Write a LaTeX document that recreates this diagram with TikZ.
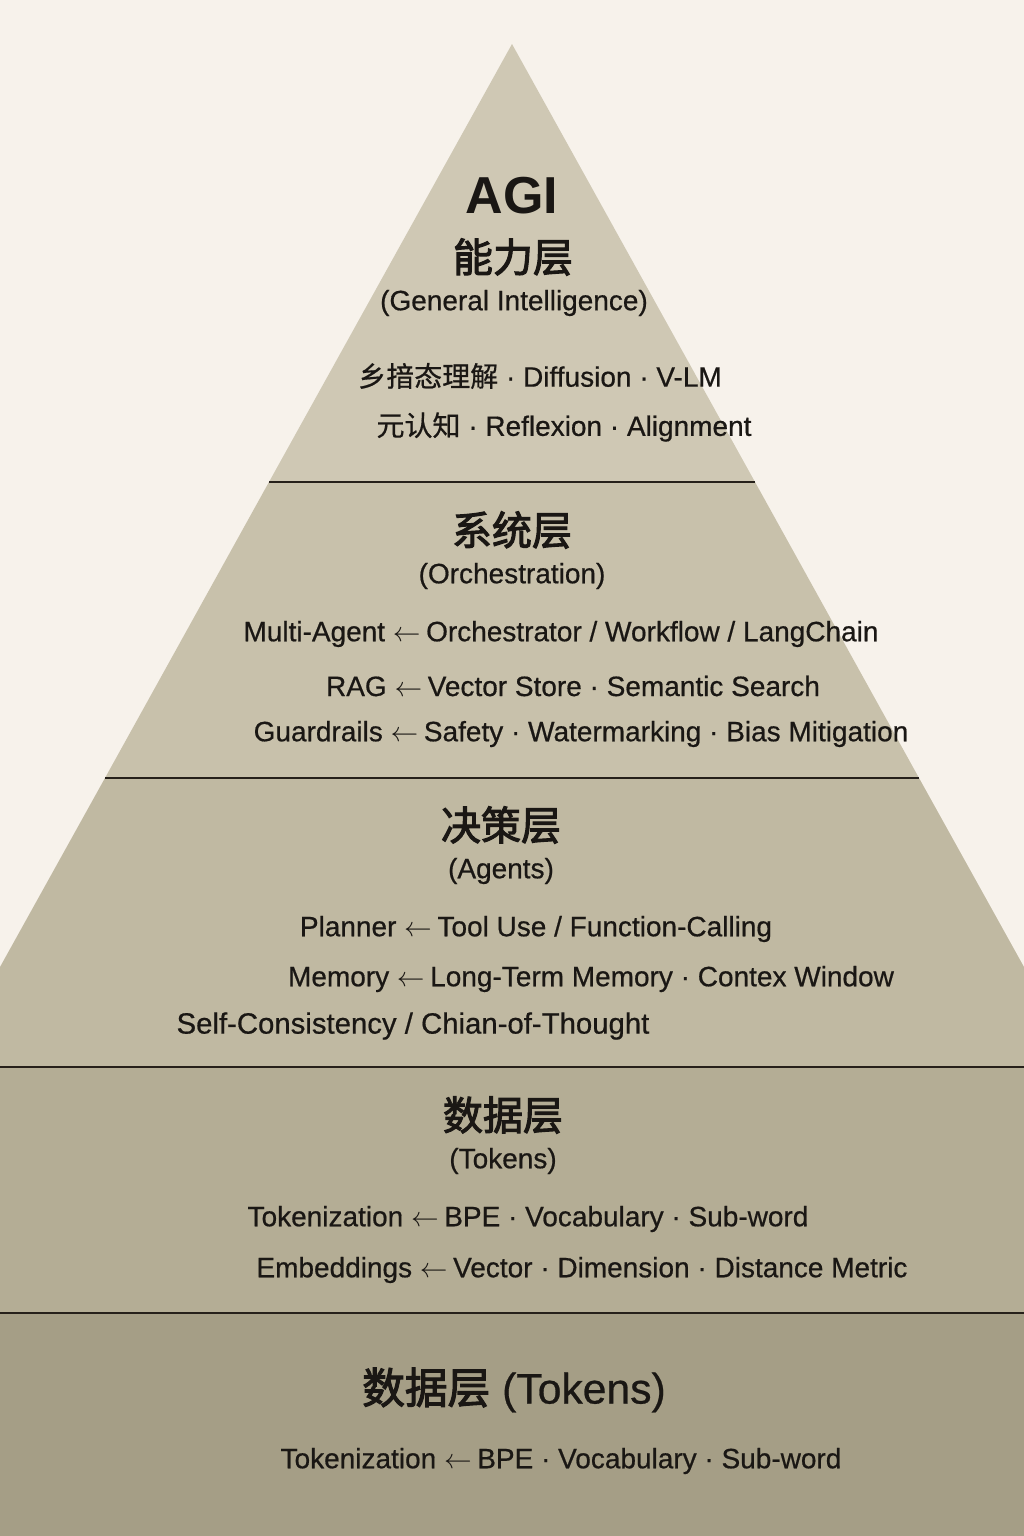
\documentclass[tikz,border=0pt]{standalone}
\usepackage{fontspec}
\setmainfont{Liberation Sans}
\newfontfamily\medsans{Liberation Sans}[FakeBold=0.6]
\newfontfamily\cjk{Noto Sans CJK SC}[FakeBold=0.6]
\newfontfamily\cjkhead{Noto Sans CJK SC}[FakeBold=2.6]
\usepackage{xcolor}
\definecolor{paper}{RGB}{247, 242, 235}
\definecolor{bandone}{RGB}{207, 200, 180}
\definecolor{bandtwo}{RGB}{200, 193, 171}
\definecolor{bandthree}{RGB}{192, 185, 162}
\definecolor{bandfour}{RGB}{180, 173, 149}
\definecolor{bandfive}{RGB}{165, 158, 134}
\definecolor{inkdark}{RGB}{26, 23, 20}
\definecolor{rule}{RGB}{38, 32, 26}
\newcommand{\backto}{\ $\leftarrow$\hspace{0.2em}}
\tikzset{
    layer head/.style={
        inner sep=0pt,
        text=inkdark,
        font=\cjkhead\fontsize{30}{36}\selectfont
    },
    layer sub/.style={
        inner sep=0pt,
        text=inkdark,
        font=\medsans\fontsize{21}{25}\selectfont
    },
    item line/.style={
        inner sep=0pt,
        text=inkdark,
        font=\medsans\fontsize{21}{25}\selectfont
    },
    band rule/.style={
        line width=1.4pt,
        draw=rule
    }
}

\begin{document}
\begin{tikzpicture}[x=0.75pt, y=-0.75pt]

% Canvas
\fill[paper] (0, 0) rectangle (1024, 1536);
\useasboundingbox (0, 0) rectangle (1024, 1536);

% Pyramid corners
\coordinate (apex) at (512, 44);
\coordinate (l1) at (269, 482);
\coordinate (r1) at (755, 482);
\coordinate (l2) at (105, 778);
\coordinate (r2) at (919, 778);
\coordinate (l3) at (0, 967);
\coordinate (r3) at (1024, 967);

% === BANDS ===
\fill[bandone] (apex) -- (r1) -- (l1) -- cycle;
\fill[bandtwo] (l1) -- (r1) -- (r2) -- (l2) -- cycle;
\fill[bandthree] (l2) -- (r2) -- (r3) -- (1024, 1067) -- (0, 1067) -- (l3) -- cycle;
\fill[bandfour] (0, 1067) rectangle (1024, 1313);
\fill[bandfive] (0, 1313) rectangle (1024, 1536);

% Band separators
\draw[band rule] (l1) -- (r1);
\draw[band rule] (l2) -- (r2);
\draw[band rule] (0, 1067) -- (1024, 1067);
\draw[band rule] (0, 1313) -- (1024, 1313);

% === AGI LAYER ===
\node[inner sep=0pt, text=inkdark, font=\bfseries\fontsize{39}{45}\selectfont]
     (agi) at (512, 196) {AGI};
\node[layer head] (agihead) at (513, 257) {能力层};
\node[layer sub] (agisub) at (514, 303) {(General Intelligence)};
\node[item line] (agia) at (540, 376) {{\cjk 乡揞态理解} · Diffusion · V-LM};
\node[item line] (agib) at (564, 427) {{\cjk 元认知} · Reflexion · Alignment};

% === SYSTEM LAYER ===
\node[layer head] (syshead) at (512, 530) {系统层};
\node[layer sub] (syssub) at (512, 576) {(Orchestration)};
\node[item line] (sysa) at (561, 634) {Multi-Agent\backto Orchestrator / Workflow / LangChain};
\node[item line] (sysb) at (573, 686) {RAG\backto Vector Store · Semantic Search};
\node[item line] (sysc) at (581, 734) {Guardrails\backto Safety · Watermarking · Bias Mitigation};

% === DECISION LAYER ===
\node[layer head] (dechead) at (501, 825) {决策层};
\node[layer sub] (decsub) at (501, 871) {(Agents)};
\node[item line] (deca) at (536, 929) {Planner\backto Tool Use / Function-Calling};
\node[item line] (decb) at (591, 979) {Memory\backto Long-Term Memory · Contex Window};
\node[item line, font=\medsans\fontsize{22}{26}\selectfont] (decc) at (413, 1026) {Self-Consistency / Chian-of-Thought};

% === DATA LAYER ===
\node[layer head] (dathead) at (503, 1115) {数据层};
\node[layer sub] (datsub) at (503, 1161) {(Tokens)};
\node[item line] (data) at (528, 1219) {Tokenization\backto BPE · Vocabulary · Sub-word};
\node[item line] (datb) at (582, 1270) {Embeddings\backto Vector · Dimension · Distance Metric};

% === BASE LAYER ===
\node[inner sep=0pt, text=inkdark, font=\medsans\fontsize{32}{38}\selectfont]
     (basehead) at (514, 1390) {{\cjkhead 数据层} (Tokens)};
\node[item line] (basea) at (561, 1461) {Tokenization\backto BPE · Vocabulary · Sub-word};

\end{tikzpicture}
\end{document}
